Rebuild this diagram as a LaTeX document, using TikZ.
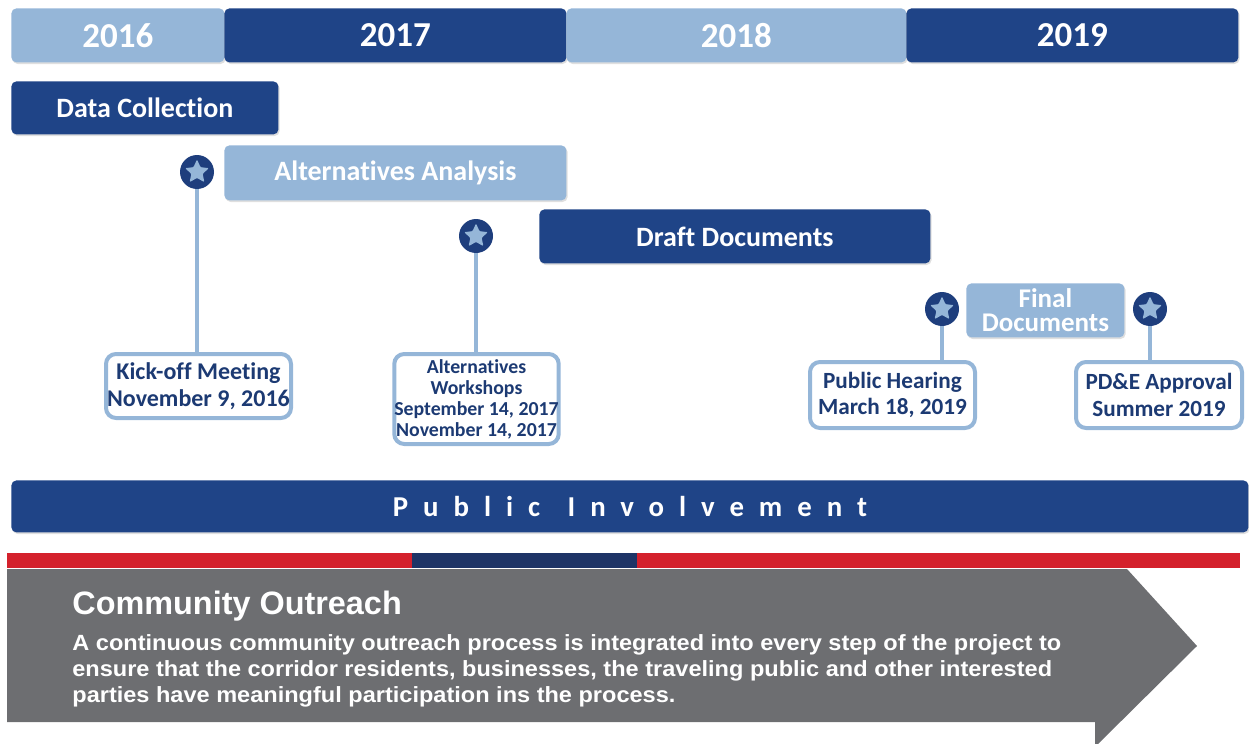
\documentclass[tikz,border=0pt]{standalone}
\usepackage{fontspec}
\setmainfont{Carlito}[Ligatures=NoCommon]
\newfontfamily\headfont{Liberation Sans}
\newfontfamily\bodyfont{Liberation Sans}[FakeStretch=1.07]
\newfontfamily\trackfont{Carlito}[LetterSpace=52, Ligatures=NoCommon]
\usetikzlibrary{calc, positioning, shapes.geometric, shadows}
\definecolor{navycol}{RGB}{31, 68, 135}
\definecolor{skycol}{RGB}{149, 182, 216}
\definecolor{pincol}{RGB}{30, 62, 125}
\definecolor{evtcol}{RGB}{28, 58, 115}
\definecolor{redcol}{RGB}{212, 33, 44}
\definecolor{stripecol}{RGB}{30, 52, 102}
\definecolor{greycol}{RGB}{109, 110, 113}
\tikzset{
  bar/.style       = {anchor=north west, rounded corners=2.5pt, inner sep=0pt,
                      text=white, drop shadow={shadow xshift=0.6pt,
                      shadow yshift=-0.8pt, opacity=0.25}},
  yrdark/.style    = {bar, fill=navycol, minimum height=27pt,
                      font=\fontsize{17.5}{20}\selectfont\bfseries},
  yrlight/.style   = {bar, fill=skycol, minimum height=27pt,
                      font=\fontsize{17.5}{20}\selectfont\bfseries},
  phdark/.style    = {bar, fill=navycol,
                      font=\fontsize{14}{11.5}\selectfont\bfseries},
  phlight/.style   = {bar, fill=skycol, align=center,
                      font=\fontsize{14}{11.5}\selectfont\bfseries},
  % milestone markers and their labels
  pinhead/.style   = {circle, fill=pincol, minimum size=17pt, inner sep=0pt},
  starglyph/.style = {star, star points=5, star point ratio=2.1, fill=skycol,
                      minimum size=12.5pt, inner sep=0pt, rounded corners=0.5pt},
  stemline/.style  = {draw=skycol, line width=2.3pt},
  evt/.style       = {draw=skycol, line width=2pt, fill=white, rounded corners=5pt,
                      text=evtcol, align=center, inner sep=0pt,
                      font=\fontsize{12}{13.5}\selectfont\bfseries},
  evtsmall/.style  = {evt, font=\fontsize{9.9}{10.5}\selectfont\bfseries},
  evtmid/.style    = {evt, font=\fontsize{11.6}{13.3}\selectfont\bfseries},
}

\begin{document}
\begin{tikzpicture}[x=0.5pt, y=-0.5pt]
  \useasboundingbox (0,0) rectangle (1249,744);

  %% ---------------- years ----------------
  \node[yrlight, minimum width=106.5pt] (y16) at (11,8)  {2016};
  \node[yrdark,  minimum width=171pt]   (y17) at (224,8) {2017};
  \node[yrlight, minimum width=170pt]   (y18) at (566,8) {2018};
  \node[yrdark,  minimum width=166pt]   (y19) at (906,8) {2019};

  %% ---------------- phases ----------------
  \node[phdark,  minimum width=133.5pt, minimum height=26.5pt] (dc)
       at (11,81) {Data Collection};
  \node[phlight, minimum width=171pt, minimum height=27.5pt] (aa)
       at (224,145) {Alternatives Analysis};
  \node[phdark,  minimum width=195.5pt, minimum height=27pt] (dd)
       at (539,209) {Draft Documents};
  \node[phlight, minimum width=79pt, minimum height=27pt,
        font=\fontsize{13.5}{12}\selectfont\bfseries] (fd)
       at (966,283) {Final\\Documents};

  %% ---------------- milestones ----------------
  \node[evt, minimum width=92.5pt, minimum height=32pt] (ko) at (198.5,386)
       {Kick-off Meeting\\November 9, 2016};
  \node[evtsmall, minimum width=81.5pt, minimum height=45pt] (aw) at (476.5,399)
       {Alternatives\\Workshops\\September 14, 2017\\November 14, 2017};
  \node[evtmid, minimum width=82.5pt, minimum height=33pt] (ph) at (892.5,395)
       {Public Hearing\\March 18, 2019};
  \node[evtmid, minimum width=83pt, minimum height=33pt] (pa) at (1159,395)
       {PD\&E Approval\\Summer 2019};

  \node[pinhead] (p1) at (197,172) {};
  \node[pinhead] (p2) at (476,236) {};
  \node[pinhead] (p3) at (942,309) {};
  \node[pinhead] (p4) at (1150,309) {};
  \foreach \p in {p1, p2, p3, p4}
    \node[starglyph] (\p s) at (\p) {};

  \draw[stemline] (p1.south) -- (p1.south |- ko.north);
  \draw[stemline] (p2.south) -- (p2.south |- aw.north);
  \draw[stemline] (p3.south) -- (p3.south |- ph.north);
  \draw[stemline] (p4.south) -- (p4.south |- pa.north);

  %% ---------------- public involvement ----------------
  \node[bar, fill=navycol, minimum width=618.5pt, minimum height=26pt,
        font=\trackfont\fontsize{14.4}{16}\selectfont\bfseries] (pi)
       at (11,480) {Public\hspace{3pt} Involvement};

  %% ---------------- community outreach ----------------
  \fill[redcol]    (7,553)   rectangle (412,568);
  \fill[stripecol] (412,553) rectangle (637,568);
  \fill[redcol]    (637,553) rectangle (1240,568);
  \fill[greycol] (7,569) -- (1127,569) -- (1197,646) -- (1098,744)
       -- (1095,744) -- (1095,722) -- (7,722) -- cycle;

  \node[anchor=base west, inner sep=0pt, text=white,
        font=\headfont\fontsize{16.2}{18}\selectfont\bfseries] (co)
       at (72,614) {Community Outreach};
  \node[anchor=north west, inner sep=0pt, text=white, align=left,
        font=\bodyfont\fontsize{11}{13.1}\selectfont\bfseries] (cotxt)
       at (72,634)
       {A continuous community outreach process is integrated into every step of the project to\\
        ensure that the corridor residents, businesses, the traveling public and other interested\\
        parties have meaningful participation ins the process.};

\end{tikzpicture}
\end{document}
